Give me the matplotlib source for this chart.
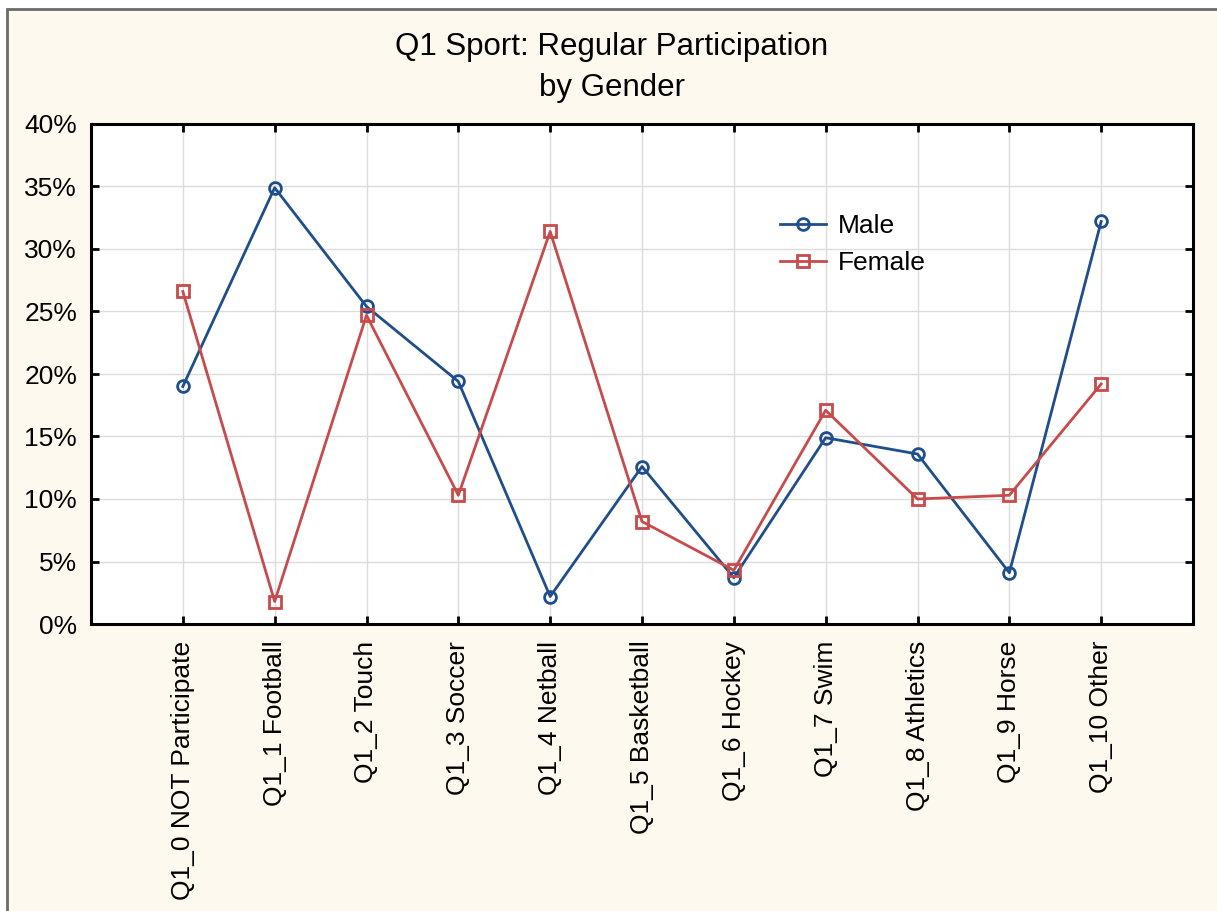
import matplotlib
matplotlib.use("Agg")
import matplotlib.pyplot as plt
from matplotlib.patches import Rectangle
from matplotlib.ticker import FuncFormatter, MultipleLocator

plt.rcParams['font.family'] = ['Liberation Sans', 'DejaVu Sans']

categories = ["Q1_0 NOT Participate", "Q1_1 Football", "Q1_2 Touch", "Q1_3 Soccer",
              "Q1_4 Netball", "Q1_5 Basketball", "Q1_6 Hockey", "Q1_7 Swim",
              "Q1_8 Athletics", "Q1_9 Horse", "Q1_10 Other"]
male = [19.0, 34.9, 25.4, 19.4, 2.2, 12.6, 3.7, 14.9, 13.6, 4.1, 32.2]
female = [26.6, 1.8, 24.7, 10.3, 31.4, 8.2, 4.3, 17.1, 10.0, 10.3, 19.2]

W, H = 1217, 911
fig = plt.figure(figsize=(W / 100, H / 100), dpi=100)
fig.patch.set_facecolor('white')
fig.patches.append(Rectangle((7 / W, -0.05), 1.1, 1.05 - 9 / H, transform=fig.transFigure,
                             facecolor='#fef9ee', edgecolor='#6a6a6a', linewidth=2.0, zorder=-5))

ax = fig.add_axes([91 / W, 1 - 624 / H, (1193 - 91) / W, (624 - 124) / H])
ax.set_facecolor('white')
x = list(range(len(categories)))
ax.plot(x, male, color='#1f4e8c', marker='o', markersize=8.5, markerfacecolor='none',
        markeredgewidth=2.0, linewidth=2.0, label='Male', zorder=3)
ax.plot(x, female, color='#c84b4b', marker='s', markersize=8.5, markerfacecolor='none',
        markeredgewidth=2.0, linewidth=2.0, label='Female', zorder=3)

ax.set_xlim(-1, len(categories))
ax.set_ylim(0, 40)
ax.set_xticks(x)
ax.set_xticklabels(categories, rotation=90, fontsize=19)
ax.yaxis.set_major_locator(MultipleLocator(5))
ax.yaxis.set_major_formatter(FuncFormatter(lambda v, p: f"{int(v)}%"))
ax.tick_params(axis='y', labelsize=19)
ax.tick_params(direction='in', length=6, width=2, top=True, right=True, pad=10)
ax.tick_params(axis='x', pad=12)
ax.grid(True, color='#dcdcdc', linewidth=1)
ax.set_axisbelow(True)
for s in ax.spines.values():
    s.set_linewidth(2.2)
    s.set_color('black')

fig.text(612 / W, 1 - 47 / H, "Q1 Sport: Regular Participation", ha='center', va='center', fontsize=22.5)
fig.text(612 / W, 1 - 88 / H, "by Gender", ha='center', va='center', fontsize=22.5)

leg = ax.legend(loc='upper left', bbox_to_anchor=((756 - 91) / (1193 - 91), (624 - 190) / 500),
                frameon=False, fontsize=19, handlelength=1.75, labelspacing=0.5, handletextpad=0.45)

fig.savefig("out.png", dpi=100, facecolor=fig.get_facecolor())
